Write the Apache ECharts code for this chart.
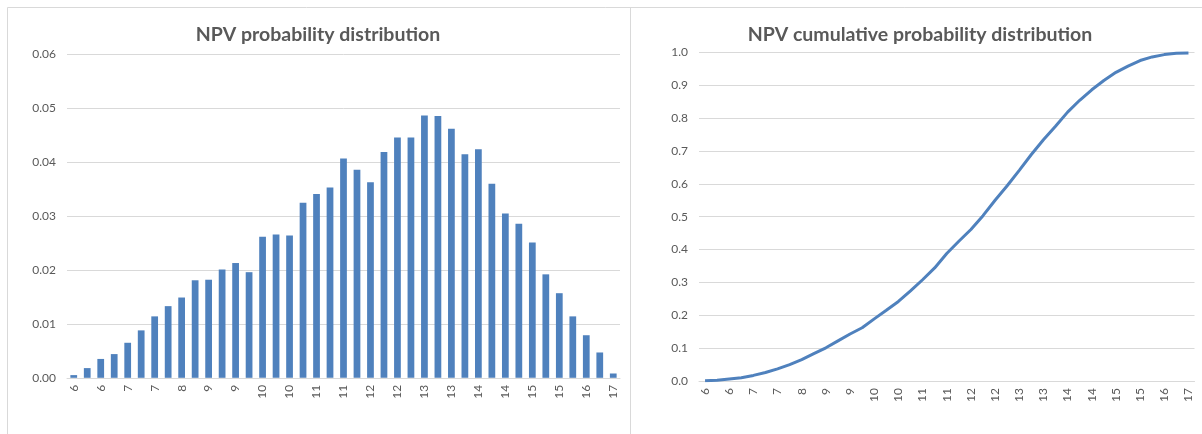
<!DOCTYPE html>
<html>
<head>
<meta charset="utf-8">
<title>NPV distribution</title>
<script src="https://cdn.jsdelivr.net/npm/echarts@6/dist/echarts.min.js"></script>
<style>
  html, body { margin: 0; padding: 0; background: #ffffff; }
  #chart { width: 1202px; height: 434px; }
</style>
</head>
<body>
<div id="chart"></div>
<script>
// NPV bin centres (shown rounded on the category axis)
const npvBins = [
  5.88, 6.15, 6.41, 6.68, 6.94, 7.21, 7.48, 7.74, 8.01, 8.27,
  8.54, 8.81, 9.07, 9.34, 9.60, 9.87, 10.14, 10.40, 10.67, 10.93,
  11.20, 11.47, 11.73, 12.00, 12.26, 12.53, 12.80, 13.06, 13.33, 13.59,
  13.86, 14.13, 14.39, 14.66, 14.92, 15.19, 15.46, 15.72, 15.99, 16.25,
  16.52
];

// Probability of each NPV bin
const probability = [
  0.0005, 0.0018, 0.0035, 0.0044, 0.0065, 0.0088, 0.0114, 0.0133, 0.0149, 0.0181,
  0.0182, 0.0201, 0.0213, 0.0196, 0.0262, 0.0266, 0.0264, 0.0325, 0.0341, 0.0353,
  0.0407, 0.0386, 0.0363, 0.0419, 0.0446, 0.0446, 0.0487, 0.0486, 0.0462, 0.0415,
  0.0424, 0.0360, 0.0305, 0.0286, 0.0251, 0.0192, 0.0157, 0.0114, 0.0079, 0.0047,
  0.0008
];

// Cumulative probability up to each NPV bin
const cumulative = [
  0.001, 0.002, 0.006, 0.010, 0.017, 0.026, 0.037, 0.050, 0.065, 0.083,
  0.101, 0.122, 0.143, 0.162, 0.189, 0.215, 0.242, 0.274, 0.308, 0.344,
  0.388, 0.425, 0.461, 0.503, 0.550, 0.594, 0.641, 0.689, 0.734, 0.775,
  0.818, 0.854, 0.886, 0.914, 0.939, 0.958, 0.975, 0.986, 0.993, 0.997,
  0.998
];

// Value-axis ticks
const probTicks = [0, 0.01, 0.02, 0.03, 0.04, 0.05, 0.06];
const cumTicks = [0, 0.1, 0.2, 0.3, 0.4, 0.5, 0.6, 0.7, 0.8, 0.9, 1.0];

const BLUE = '#4F81BD';
const TEXT = '#595959';
const LINE = '#D9D9D9';
const FONT = 'Lato, "Open Sans", sans-serif';

const catLabels = npvBins.map(v => String(Math.round(v)));

function xAxisFor(gridIndex) {
  return {
    type: 'category',
    gridIndex: gridIndex,
    data: catLabels,
    boundaryGap: true,
    axisLine: { show: true, lineStyle: { color: LINE, width: 1 } },
    axisTick: { show: false },
    axisLabel: {
      interval: 1,
      rotate: 90,
      margin: 7,
      color: TEXT,
      fontFamily: FONT,
      fontSize: 12
    },
    splitLine: { show: false }
  };
}

function yAxisFor(gridIndex, ticks, digits, margin) {
  return {
    type: 'value',
    gridIndex: gridIndex,
    min: ticks[0],
    max: ticks[ticks.length - 1],
    interval: ticks[1] - ticks[0],
    axisLine: { show: false },
    axisTick: { show: false },
    axisLabel: {
      margin: margin,
      color: TEXT,
      fontFamily: FONT,
      fontSize: 12,
      formatter: v => v.toFixed(digits)
    },
    splitLine: { show: true, lineStyle: { color: LINE, width: 1 } }
  };
}

const chart = echarts.init(document.getElementById('chart'), null, { renderer: 'canvas' });

const titleStyle = { color: TEXT, fontFamily: FONT, fontSize: 19.5, fontWeight: 'bold' };

chart.setOption({
  animation: false,
  backgroundColor: '#ffffff',
  title: [
    {
      text: 'NPV probability distribution',
      left: 313,
      top: 20,
      textAlign: 'center',
      textStyle: titleStyle
    },
    {
      text: 'NPV cumulative probability distribution',
      left: 915,
      top: 20,
      textAlign: 'center',
      textStyle: titleStyle
    }
  ],
  graphic: [
    {
      type: 'rect',
      silent: true,
      shape: { x: 7.5, y: 7.5, width: 1400, height: 600 },
      style: { fill: 'none', stroke: LINE, lineWidth: 1 }
    },
    {
      type: 'line',
      silent: true,
      shape: { x1: 630.5, y1: 7.5, x2: 630.5, y2: 434 },
      style: { stroke: LINE, lineWidth: 1 }
    }
  ],
  grid: [
    { left: 67, width: 553, top: 54.5, height: 323.3, containLabel: false },
    { left: 699, width: 495.5, top: 52.3, height: 328.7, containLabel: false }
  ],
  xAxis: [xAxisFor(0), xAxisFor(1)],
  yAxis: [yAxisFor(0, probTicks, 2, 11), yAxisFor(1, cumTicks, 1, 11)],
  series: [
    {
      name: 'Probability',
      type: 'bar',
      xAxisIndex: 0,
      yAxisIndex: 0,
      data: probability,
      barWidth: '50%',
      itemStyle: { color: BLUE }
    },
    {
      name: 'Cumulative probability',
      type: 'line',
      xAxisIndex: 1,
      yAxisIndex: 1,
      data: cumulative,
      showSymbol: false,
      symbol: 'none',
      lineStyle: { color: BLUE, width: 3 },
      itemStyle: { color: BLUE }
    }
  ]
});
</script>
</body>
</html>
